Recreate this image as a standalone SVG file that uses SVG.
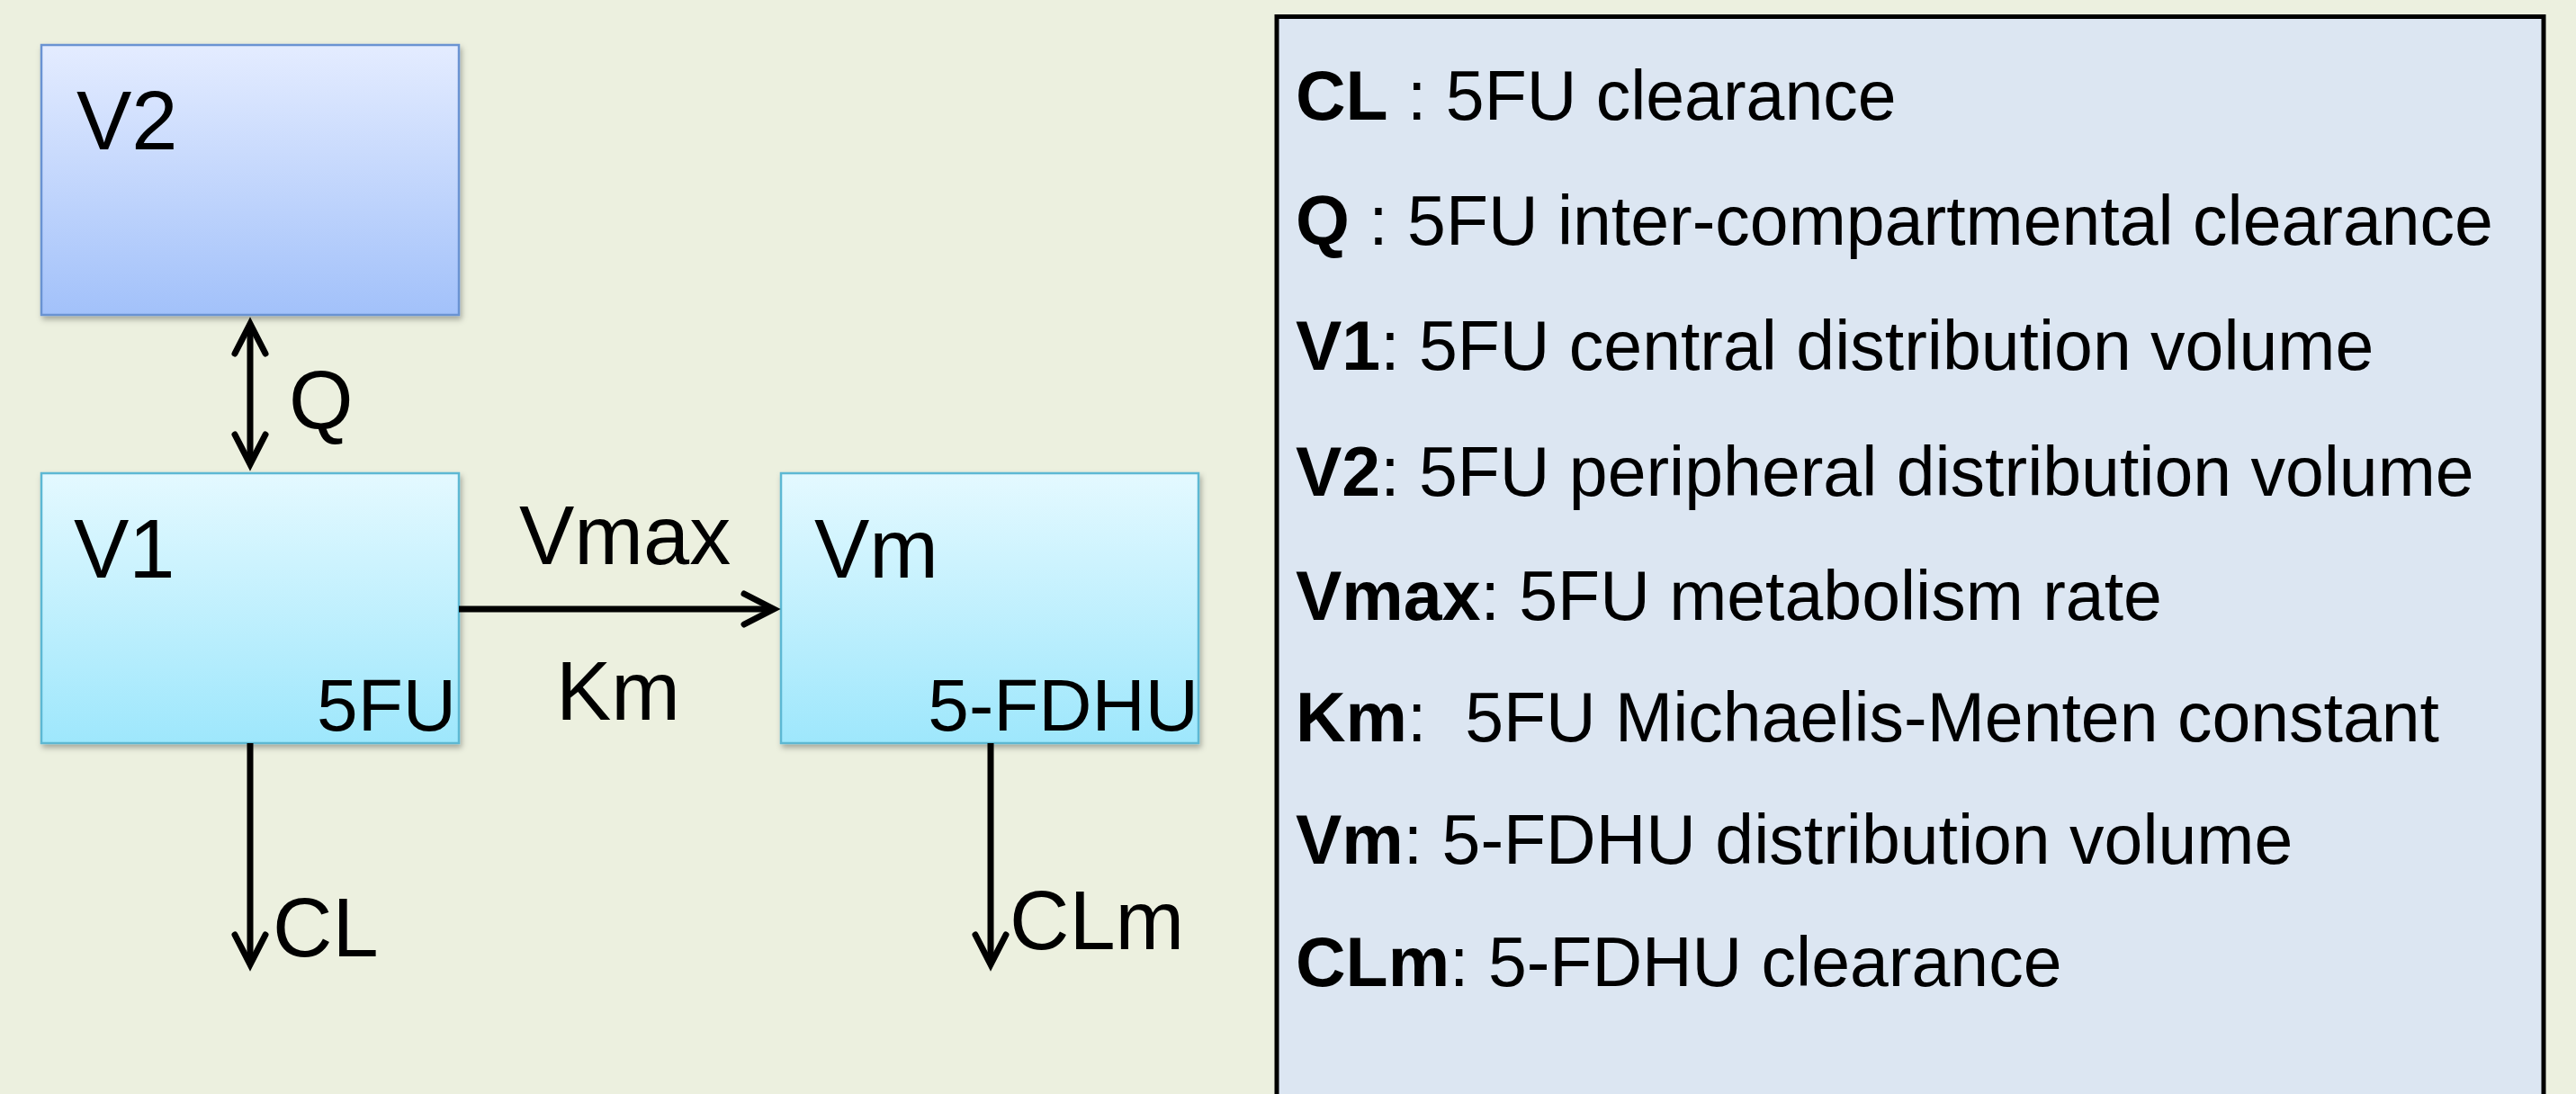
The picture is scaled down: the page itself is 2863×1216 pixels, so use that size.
<svg xmlns="http://www.w3.org/2000/svg" width="2863" height="1216" viewBox="0 0 2863 1216">
  <style>
    text { font-family: "Liberation Sans", Arial, sans-serif; fill: #000; }
    .lbl { font-size: 92px; }
    .sub { font-size: 82px; }
    .leg { font-size: 77px; white-space: pre; }
    .b { font-weight: bold; }
    .box { stroke-width: 2.5; filter: url(#shadow); }
    .conn { stroke: #000; stroke-width: 7; fill: none; }
  </style>
  <defs>
    <linearGradient id="gV2" x1="0" y1="0" x2="0" y2="1">
      <stop offset="0" stop-color="#E4ECFF"/>
      <stop offset="1" stop-color="#A2C1FA"/>
    </linearGradient>
    <linearGradient id="gV1" x1="0" y1="0" x2="0" y2="1">
      <stop offset="0" stop-color="#E4F9FF"/>
      <stop offset="1" stop-color="#9EE7FC"/>
    </linearGradient>
    <filter id="shadow" x="-10%" y="-10%" width="125%" height="125%">
      <feDropShadow dx="2" dy="4" stdDeviation="3" flood-color="#000" flood-opacity="0.3"/>
    </filter>
    <marker id="ah" markerUnits="userSpaceOnUse" viewBox="-60 -30 80 60" refX="-8" refY="0" markerWidth="80" markerHeight="60" orient="auto-start-reverse" overflow="visible">
      <path d="M-41,-17 L-8,0 L-41,17" fill="none" stroke="#000" stroke-width="7" stroke-linecap="round" stroke-linejoin="miter"/>
    </marker>
  </defs>
  <rect x="0" y="0" width="2863" height="1216" fill="#ECF0DF"/>

  <g id="node-V2">
    <rect class="box" x="46" y="50" width="464" height="300" fill="url(#gV2)" stroke="#6A93D2"/>
    <text class="lbl" x="85" y="166">V2</text>
  </g>
  <g id="node-V1">
    <rect class="box" x="46" y="526" width="464" height="300" fill="url(#gV1)" stroke="#5DB8D3"/>
    <text class="lbl" x="82" y="642">V1</text>
    <text class="sub" x="507" y="812" text-anchor="end">5FU</text>
  </g>
  <g id="node-Vm">
    <rect class="box" x="868" y="526" width="464" height="300" fill="url(#gV1)" stroke="#5DB8D3"/>
    <text class="lbl" x="905" y="642">Vm</text>
    <text class="sub" x="1332" y="812" text-anchor="end">5-FDHU</text>
  </g>

  <g id="connectors">
    <line class="conn" x1="278" y1="360" x2="278" y2="516" marker-start="url(#ah)" marker-end="url(#ah)"/>
    <text class="lbl" x="321" y="476">Q</text>
    <line class="conn" x1="510" y1="677" x2="860" y2="677" marker-end="url(#ah)"/>
    <text class="lbl" x="577" y="627">Vmax</text>
    <text class="lbl" x="618" y="800">Km</text>
    <line class="conn" x1="278" y1="826" x2="278" y2="1072" marker-end="url(#ah)"/>
    <text class="lbl" x="303" y="1063">CL</text>
    <line class="conn" x1="1101" y1="826" x2="1101" y2="1072" marker-end="url(#ah)"/>
    <text class="lbl" x="1122" y="1055">CLm</text>
  </g>

  <g id="legend">
    <rect x="1419" y="18.5" width="1408" height="1230" fill="#DCE6F2" stroke="#000" stroke-width="5"/>
    <text class="leg" x="1440" y="133"><tspan class="b">CL</tspan> : 5FU clearance</text>
    <text class="leg" x="1440" y="272"><tspan class="b">Q</tspan> : 5FU inter-compartmental clearance</text>
    <text class="leg" x="1440" y="411"><tspan class="b">V1</tspan>: 5FU central distribution volume</text>
    <text class="leg" x="1440" y="551"><tspan class="b">V2</tspan>: 5FU peripheral distribution volume</text>
    <text class="leg" x="1440" y="689"><tspan class="b">Vmax</tspan>: 5FU metabolism rate</text>
    <text class="leg" x="1440" y="824"><tspan class="b">Km</tspan>:  5FU Michaelis-Menten constant</text>
    <text class="leg" x="1440" y="960"><tspan class="b">Vm</tspan>: 5-FDHU distribution volume</text>
    <text class="leg" x="1440" y="1096"><tspan class="b">CLm</tspan>: 5-FDHU clearance</text>
  </g>
</svg>
